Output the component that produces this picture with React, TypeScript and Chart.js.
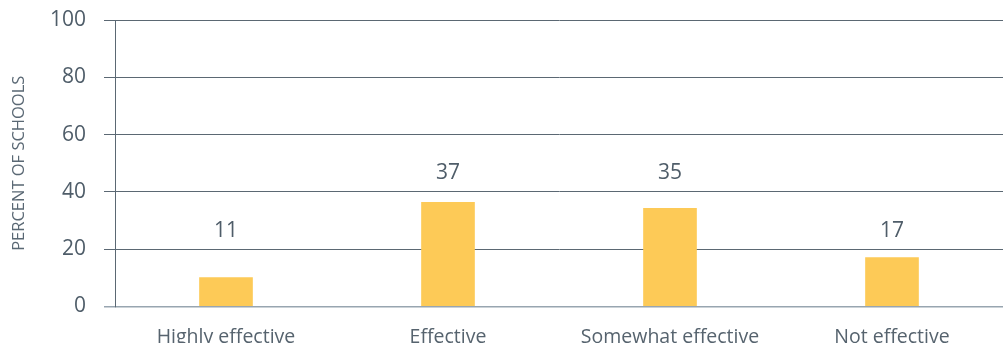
import React, { useEffect, useRef } from "react";
import { Chart, registerables } from "chart.js";

Chart.register(...registerables);

const categories = ["Highly effective", "Effective", "Somewhat effective", "Not effective"];
const barValues = [10.1, 36.4, 34.3, 17.1];
const valueLabels = [11, 37, 35, 17];
const yTicks = [0, 20, 40, 60, 80, 100];
const yTitle = "PERCENT OF SCHOOLS";

const FONT = "'Open Sans', 'Noto Sans', sans-serif";
const TEXT = "#4f5d69";
const GRID = "#5b6873";
const ZERO = "#98a5b0";
const BAR = "#FDCA57";

const valueLabelPlugin = {
  id: "valueLabels",
  afterDatasetsDraw(chart: any) {
    const { ctx } = chart;
    const meta = chart.getDatasetMeta(0);
    const y = chart.scales.y;
    ctx.save();
    ctx.font = `21px ${FONT}`;
    ctx.fillStyle = TEXT;
    ctx.textAlign = "center";
    ctx.textBaseline = "middle";
    meta.data.forEach((bar: any, i: number) => {
      const v = valueLabels[i];
      const anchor = Math.ceil(v / 20) * 20 + 6.5;
      ctx.fillText(String(v), bar.x, y.getPixelForValue(anchor));
    });
    ctx.restore();
  },
};

export default function App() {
  const ref = useRef<HTMLCanvasElement | null>(null);
  useEffect(() => {
    if (!ref.current) return;
    const chart = new Chart(ref.current, {
      type: "bar",
      data: {
        labels: categories,
        datasets: [
          {
            data: barValues,
            backgroundColor: BAR,
            barThickness: 53,
            borderWidth: 0,
          },
        ],
      },
      plugins: [valueLabelPlugin],
      options: {
        animation: false,
        responsive: true,
        maintainAspectRatio: false,
        layout: { padding: { top: 20, right: 0, bottom: 0, left: 0 } },
        plugins: { legend: { display: false }, tooltip: { enabled: false } },
        scales: {
          x: {
            grid: { display: false },
            border: { display: false },
            ticks: { font: { family: FONT, size: 19.5 }, color: "#56636e", padding: 11, maxRotation: 0 },
            afterFit(scale: any) {
              scale.height = 36.5;
            },
          },
          y: {
            min: 0,
            max: 100,
            afterBuildTicks(scale: any) {
              scale.ticks = yTicks.map((v) => ({ value: v }));
            },
            grid: {
              color: (c: any) => (c.tick && c.tick.value === 0 ? ZERO : GRID),
              lineWidth: (c: any) => (c.tick && c.tick.value === 0 ? 1.5 : 1),
              tickLength: 11,
              drawTicks: true,
            },
            border: { display: true, color: GRID, width: 1 },
            ticks: { font: { family: FONT, size: 21 }, color: TEXT, padding: 18 },
            title: {
              display: true,
              text: yTitle,
              font: { family: FONT, size: 16.5 },
              color: "#5a6874",
              padding: { top: 9, bottom: 0 },
            },
            afterFit(scale: any) {
              scale.width = 115;
              scale.paddingTop = 0;
              scale.paddingBottom = 0;
            },
          },
        },
      },
    });
    return () => chart.destroy();
  }, []);
  return (
    <div style={{ position: "absolute", left: 0, top: 0, width: 1003, height: 343, overflow: "hidden", background: "#fff" }}>
      <canvas ref={ref} />
    </div>
  );
}
